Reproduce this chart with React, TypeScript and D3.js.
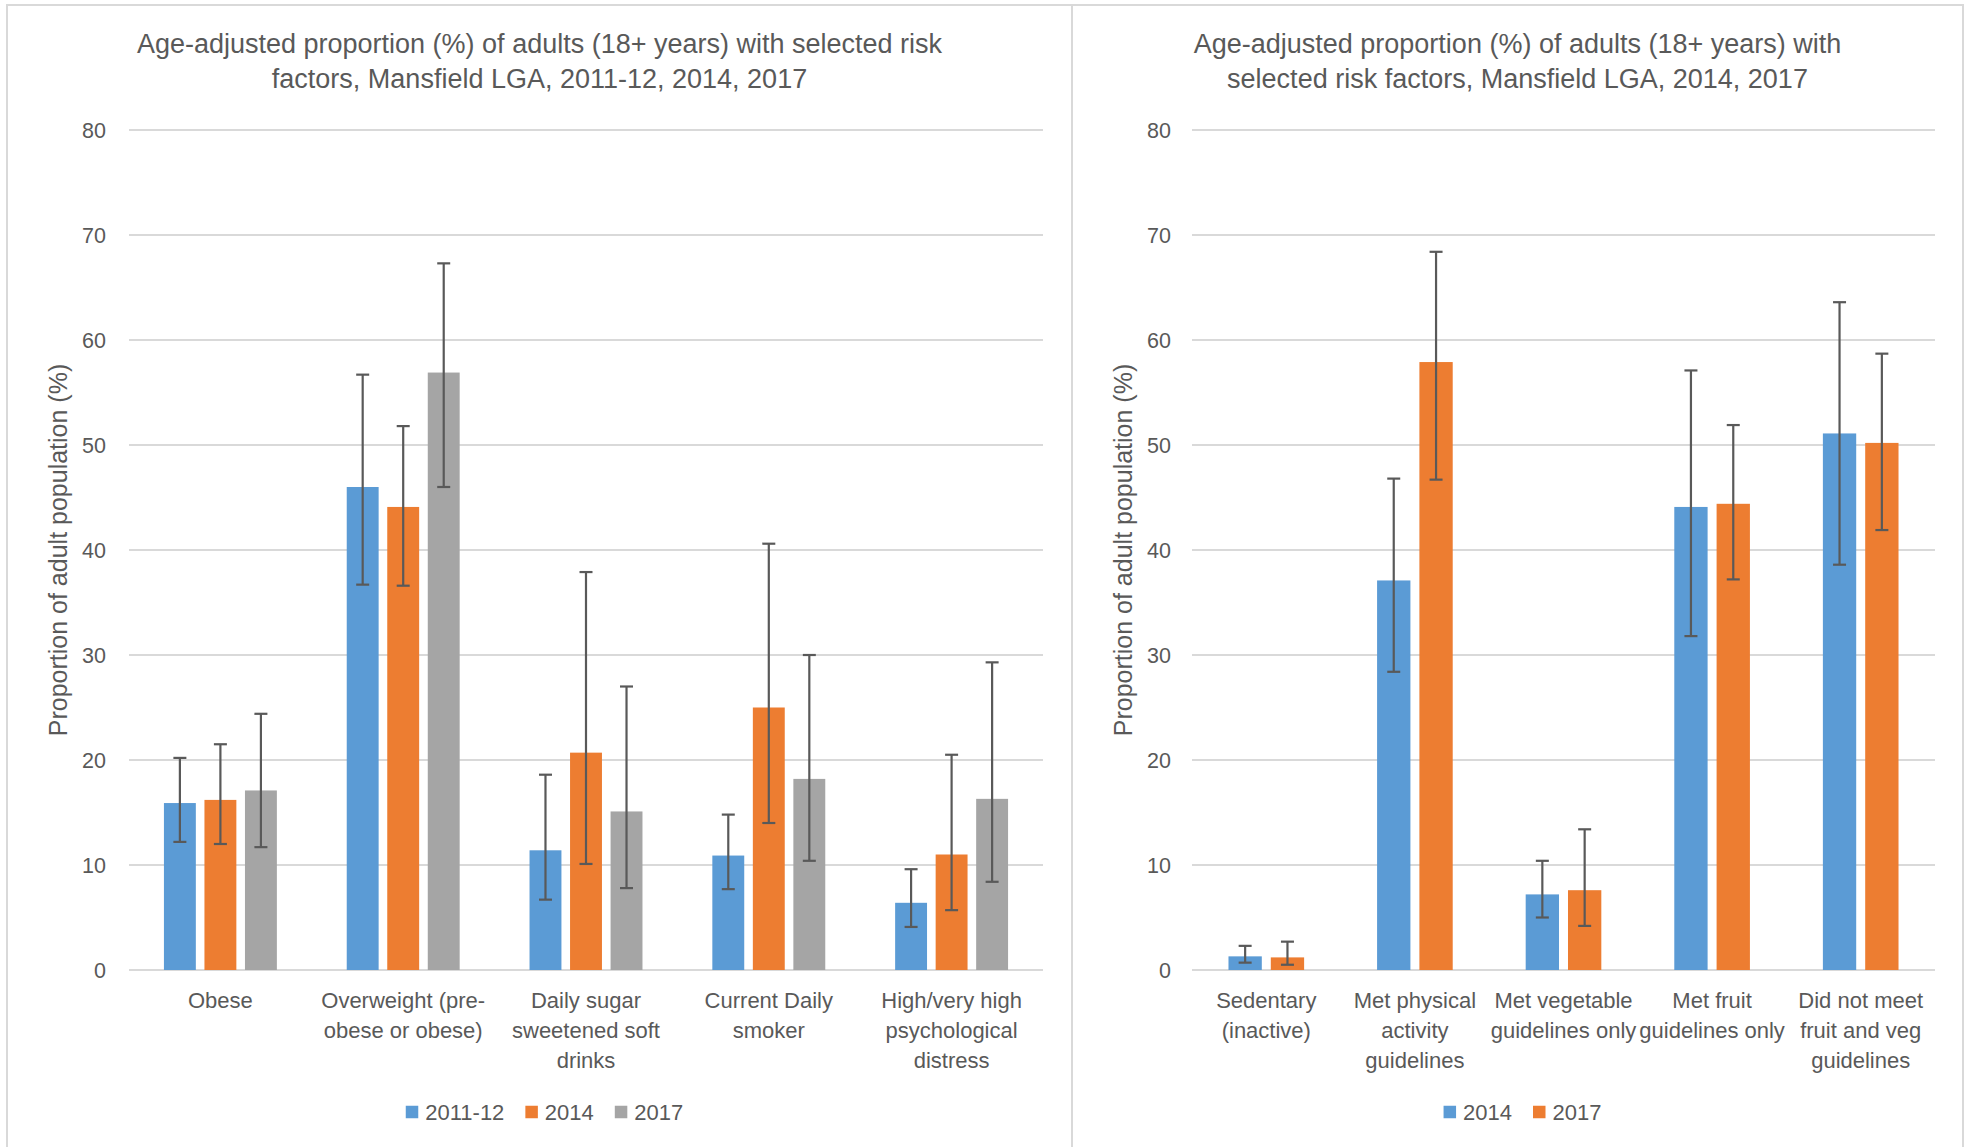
import React from "react";
import * as d3 from "d3";

// ---------- Data ----------
const leftTitle = [
  "Age-adjusted proportion (%) of adults (18+ years) with selected risk",
  "factors, Mansfield LGA, 2011-12, 2014, 2017",
];
const rightTitle = [
  "Age-adjusted proportion (%) of adults (18+ years) with",
  "selected risk factors, Mansfield LGA, 2014, 2017",
];
const yAxisTitle = "Proportion of adult population (%)";
const yTicks = [0, 10, 20, 30, 40, 50, 60, 70, 80];

const leftCategories = [
  ["Obese"],
  ["Overweight (pre-", "obese or obese)"],
  ["Daily sugar", "sweetened soft", "drinks"],
  ["Current Daily", "smoker"],
  ["High/very high", "psychological", "distress"],
];
const leftSeries = ["2011-12", "2014", "2017"];
const left2011 = [15.9, 46.0, 11.4, 10.9, 6.4];
const left2011Low = [12.2, 36.7, 6.7, 7.7, 4.1];
const left2011High = [20.2, 56.7, 18.6, 14.8, 9.6];
const left2014 = [16.2, 44.1, 20.7, 25.0, 11.0];
const left2014Low = [12.0, 36.6, 10.1, 14.0, 5.7];
const left2014High = [21.5, 51.8, 37.9, 40.6, 20.5];
const left2017 = [17.1, 56.9, 15.1, 18.2, 16.3];
const left2017Low = [11.7, 46.0, 7.8, 10.4, 8.4];
const left2017High = [24.4, 67.3, 27.0, 30.0, 29.3];

const rightCategories = [
  ["Sedentary", "(inactive)"],
  ["Met physical", "activity", "guidelines"],
  ["Met vegetable", "guidelines only"],
  ["Met fruit", "guidelines only"],
  ["Did not meet", "fruit and veg", "guidelines"],
];
const rightSeries = ["2014", "2017"];
const right2014 = [1.3, 37.1, 7.2, 44.1, 51.1];
const right2014Low = [0.7, 28.4, 5.0, 31.8, 38.6];
const right2014High = [2.3, 46.8, 10.4, 57.1, 63.6];
const right2017 = [1.2, 57.9, 7.6, 44.4, 50.2];
const right2017Low = [0.5, 46.7, 4.2, 37.2, 41.9];
const right2017High = [2.7, 68.4, 13.4, 51.9, 58.7];

const seriesColors = ["#5B9BD5", "#ED7D31", "#A5A5A5"];

// ---------- Style ----------
const FONT = "'Liberation Sans', Arial, sans-serif";
const TEXT = "#595959";
const GRID = "#D9D9D9";
const ERR = "#595959";

type Series = { name: string; values: number[]; low: number[]; high: number[]; color: string };

function measure(text: string, size: number): number {
  if (typeof document === "undefined") return text.length * size * 0.5;
  const c = document.createElement("canvas").getContext("2d");
  if (!c) return text.length * size * 0.5;
  c.font = `${size}px 'Liberation Sans', Arial, sans-serif`;
  return c.measureText(text).width;
}

function Panel(props: {
  x0: number;
  x1: number;
  px0: number;
  px1: number;
  title: string[];
  categories: string[][];
  series: Series[];
  tickRight: number;
  yTitleX: number;
}) {
  const { x0, x1, px0, px1, title, categories, series, tickRight, yTitleX } = props;
  const y = d3.scaleLinear().domain([0, 80]).range([970, 130]);
  const band = d3
    .scaleBand<number>()
    .domain(d3.range(categories.length))
    .range([x0, x1])
    .paddingInner(0)
    .paddingOuter(0);
  const n = series.length;
  const bw = band.bandwidth() / (n + (n - 1) * 0.27 + 2.19);
  const step = bw * 1.27;
  const cx = (px0 + px1) / 2;

  // legend layout
  const lgSize = 22;
  const sq = 12.5;
  const items = series.map((s) => ({ s, w: measure(s.name, lgSize) }));
  const total = items.reduce((a, it) => a + sq + 7 + it.w, 0) + (items.length - 1) * 21;
  let lx = cx - total / 2 + 5;
  const legendItems = items.map((it) => {
    const pos = lx;
    lx += sq + 7 + it.w + 21;
    return { ...it, pos };
  });

  return (
    <g>
      {title.map((t, i) => (
        <text
          key={i}
          x={cx}
          y={44 + i * 35}
          dy="0.35em"
          textAnchor="middle"
          fontSize={27}
          fill={TEXT}
          fontFamily={FONT}
        >
          {t}
        </text>
      ))}
      {yTicks.map((t) => (
        <g key={t}>
          <line x1={x0} x2={x1} y1={y(t)} y2={y(t)} stroke={GRID} strokeWidth={2} />
          <text
            x={tickRight}
            y={y(t)}
            dy="0.35em"
            textAnchor="end"
            fontSize={21.5}
            fill={TEXT}
            fontFamily={FONT}
          >
            {t}
          </text>
        </g>
      ))}
      <text
        transform={`translate(${yTitleX},${(y(0) + y(80)) / 2}) rotate(-90)`}
        textAnchor="middle"
        dy="0.35em"
        fontSize={25}
        fill={TEXT}
        fontFamily={FONT}
      >
        {yAxisTitle}
      </text>
      {categories.map((lines, ci) => {
        const c = (band(ci) as number) + band.bandwidth() / 2;
        return (
          <g key={ci}>
            {series.map((s, si) => {
              const bx = c + (si - (n - 1) / 2) * step - bw / 2;
              const v = s.values[ci];
              const ex = bx + bw / 2;
              return (
                <g key={si}>
                  <rect x={bx} y={y(v)} width={bw} height={y(0) - y(v)} fill={s.color} />
                  <line x1={ex} x2={ex} y1={y(s.high[ci])} y2={y(s.low[ci])} stroke={ERR} strokeWidth={2.2} />
                  <line x1={ex - 6.5} x2={ex + 6.5} y1={y(s.high[ci])} y2={y(s.high[ci])} stroke={ERR} strokeWidth={2.2} />
                  <line x1={ex - 6.5} x2={ex + 6.5} y1={y(s.low[ci])} y2={y(s.low[ci])} stroke={ERR} strokeWidth={2.2} />
                </g>
              );
            })}
            {lines.map((l, li) => (
              <text
                key={li}
                x={c}
                y={1000 + li * 30}
                dy="0.35em"
                textAnchor="middle"
                fontSize={22}
                fill={TEXT}
                fontFamily={FONT}
              >
                {l}
              </text>
            ))}
          </g>
        );
      })}
      {legendItems.map((it, i) => (
        <g key={i}>
          <rect x={it.pos} y={1112 - sq / 2} width={sq} height={sq} fill={it.s.color} />
          <text
            x={it.pos + sq + 7}
            y={1112}
            dy="0.35em"
            fontSize={lgSize}
            fill={TEXT}
            fontFamily={FONT}
          >
            {it.s.name}
          </text>
        </g>
      ))}
    </g>
  );
}

export default function App() {
  const leftData: Series[] = [
    { name: leftSeries[0], values: left2011, low: left2011Low, high: left2011High, color: seriesColors[0] },
    { name: leftSeries[1], values: left2014, low: left2014Low, high: left2014High, color: seriesColors[1] },
    { name: leftSeries[2], values: left2017, low: left2017Low, high: left2017High, color: seriesColors[2] },
  ];
  const rightData: Series[] = [
    { name: rightSeries[0], values: right2014, low: right2014Low, high: right2014High, color: seriesColors[0] },
    { name: rightSeries[1], values: right2017, low: right2017Low, high: right2017High, color: seriesColors[1] },
  ];
  return (
    <svg
      width={1968}
      height={1147}
      style={{ position: "absolute", left: 0, top: 0, background: "#fff" }}
    >
      <rect x={0} y={0} width={1968} height={1147} fill="#fff" />
      <path d="M7,1147 V5 H1963 V1147 M1072,5 V1147" fill="none" stroke={GRID} strokeWidth={2} />
      <Panel
        x0={129}
        x1={1043}
        px0={7}
        px1={1072}
        title={leftTitle}
        categories={leftCategories}
        series={leftData}
        tickRight={106}
        yTitleX={58}
      />
      <Panel
        x0={1192}
        x1={1935}
        px0={1072}
        px1={1963}
        title={rightTitle}
        categories={rightCategories}
        series={rightData}
        tickRight={1171}
        yTitleX={1123}
      />
    </svg>
  );
}
